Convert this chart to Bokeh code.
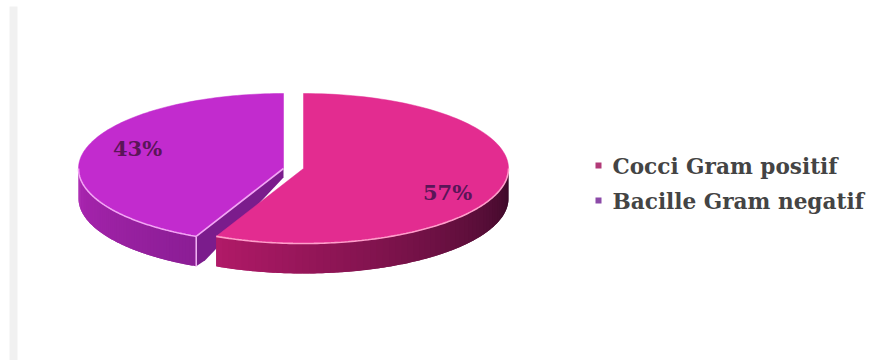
import numpy as np
from bokeh.embed import file_html
from bokeh.models import Range1d
from bokeh.plotting import figure
from bokeh.resources import INLINE
from bokeh.core.properties import value

# Chart data
categories = ["Cocci Gram positif", "Bacille Gram negatif"]
shares = [57, 43]
share_labels = ["57%", "43%"]

# Colours per slice
top_colors = ["#e32c90", "#c22bce"]
rim_colors = ["#ff9fcb", "#f3a6f5"]
marker_colors = ["#b23a78", "#8c4aa8"]
wall_from = [(58, 10, 40), (140, 30, 150)]
wall_to = [(176, 26, 104), (172, 38, 178)]
inner_wall = "#7b1c8c"

# Pie geometry in page pixels
CENTERS = [(303, 168), (283, 168)]
RX, RY, DEPTH = 205, 75, 30


def rim(center, a0, a1, n=120):
    """Points on the top ellipse; angles run clockwise from twelve o'clock."""
    t = np.radians(np.linspace(a0, a1, n))
    return center[0] + RX * np.sin(t), center[1] - RY * np.cos(t)


p = figure(width=875, height=360, output_backend="svg", toolbar_location=None,
           x_range=Range1d(0, 875), y_range=Range1d(360, 0),
           min_border=0, outline_line_color=None)
p.axis.visible = False
p.grid.visible = False
p.background_fill_color = "#ffffff"
p.border_fill_color = "#ffffff"

# Pale strip along the left side of the page
p.quad(left=9, right=17, top=6, bottom=360, fill_color="#f1f1f1", line_color=None)

sweep = [360 * s / sum(shares) for s in shares]
spans = [(0, sweep[0]), (sweep[0], 360)]
visible_walls = [(90, sweep[0]), (sweep[0], 270)]

# Second slice goes first, so the first one overlaps its cut face
for i in (1, 0):
    c = CENTERS[i]
    a0, a1 = spans[i]
    w0, w1 = visible_walls[i]

    # Outer wall, shaded through narrow overlapping strips
    steps = 60
    edges = np.linspace(w0, w1, steps + 1)
    step = edges[1] - edges[0]
    for k in range(steps):
        f = k / (steps - 1)
        col = tuple(int(wall_from[i][j] + (wall_to[i][j] - wall_from[i][j]) * f) for j in range(3))
        x, y = rim(c, edges[k], min(edges[k + 1] + step, w1), 6)
        xs = np.concatenate([x, x[::-1]])
        ys = np.concatenate([y, y[::-1] + DEPTH])
        p.patch(xs, ys, fill_color=col, line_color=None)

    # Cut face of the second slice
    if i == 1:
        ex, ey = rim(c, a0, a0, 1)
        xs = [c[0], ex[0], ex[0], ex[0] + 9, c[0]]
        ys = [c[1], ey[0], ey[0] + DEPTH, ey[0] + DEPTH - 6, c[1] + 9]
        p.patch(xs, ys, fill_color=inner_wall, line_color=None)
        p.line([ex[0], ex[0]], [ey[0], ey[0] + DEPTH], line_color="#f3b6f5", line_width=1.5)

    # Top face
    x, y = rim(c, a0, a1)
    p.patch(np.r_[c[0], x], np.r_[c[1], y], fill_color=top_colors[i], line_color=top_colors[i], line_width=0.5)

    # Highlight along the front rim
    rx, ry = rim(c, w0, w1)
    p.line(rx, ry, line_color=rim_colors[i], line_width=1.6)
    if i == 1:
        ex, ey = rim(c, a0, a0, 1)
        p.line([c[0], ex[0]], [c[1], ey[0]], line_color=rim_colors[i], line_width=1.6)

# Percentage labels
p.text(x=[447, 137], y=[192, 148], text=share_labels, text_font=value("DejaVu Serif"),
       text_font_size="21px", text_font_style="bold", text_color="#5a1558",
       text_align="center", text_baseline="middle")

# Legend
p.rect(x=[598, 598], y=[165, 200], width=6, height=6, fill_color=marker_colors, line_color=None)
p.text(x=[612, 612], y=[166, 201], text=categories, text_font=value("DejaVu Serif"),
       text_font_size="21.6px", text_font_style="bold", text_color="#444444",
       text_align="left", text_baseline="middle")

open("out.html", "w").write(file_html(p, INLINE))
